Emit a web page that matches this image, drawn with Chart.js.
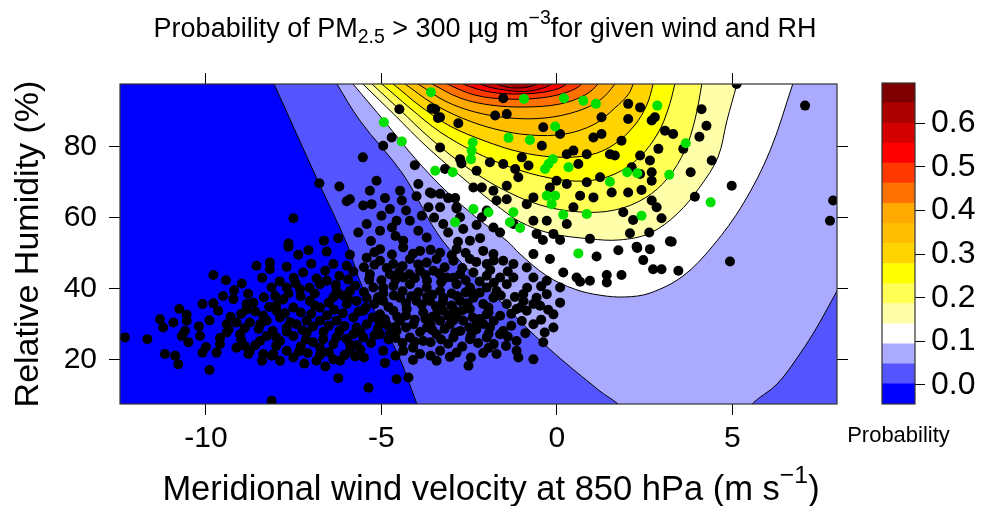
<!DOCTYPE html>
<html>
<head>
<meta charset="utf-8">
<script src="https://cdn.jsdelivr.net/npm/chart.js@4.4.1/dist/chart.umd.min.js"></script>
<style>
  html, body { margin: 0; padding: 0; background: #fff; }
  #wrap { position: relative; width: 986px; height: 506px; }
  #main { position: absolute; left: 0; top: 0; }
  #bar { position: absolute; left: 840px; top: 0; }
</style>
</head>
<body>
<div id="wrap">
  <canvas id="main" width="986" height="506"></canvas>
  <canvas id="bar" width="146" height="506"></canvas>
</div>
<script>
const FONT = "'Liberation Sans', Arial, sans-serif";
Chart.defaults.font.family = FONT;
Chart.defaults.color = "#000";

// axes
const xRange = [-12.45, 7.98];
const yRange = [7.4, 97.7];
const xTicks = [-10, -5, 0, 5];
const yTicks = [20, 40, 60, 80];

// colour key: band edges and colours (bottom -> top)
const levels = [-0.0436, 0.0024, 0.0484, 0.0944, 0.1404, 0.1864, 0.2324, 0.2784, 0.3244,
    0.3704, 0.4164, 0.4624, 0.5084, 0.5544, 0.6004, 0.6464, 0.692];
const bandColors = ["#0000ff", "#5555ff", "#aaaaff", "#ffffff", "#ffffaa", "#ffff55",
    "#ffff00", "#ffd400", "#ffbf00", "#ffaa00", "#ff7100", "#ff3900", "#ff0000",
    "#d40000", "#aa0000", "#7f0000"];
const keyTicks = [0, 0.1, 0.2, 0.3, 0.4, 0.5, 0.6];

// contour lines (wind, RH), one per level, region above each line is the next band
const c01 = [[-8.39,105],[-8.06,97.7],[-6.81,70.3],[-5.98,52.5],[-5.53,40.1],[-4.56,22.1],[-3.99,7.4],[-3.7,0],[-3.4,-4],[9,-4]];
const c02 = [[-6.73,105],[-6.27,97.7],[-5.61,87.3],[-4.39,72.3],[-3.25,53.4],[-1.54,35.6],[-0.28,23.5],[1.23,11.0],[1.74,7.4],[2.5,0],[3.2,-4],[4.4,-4],[5.0,0],[5.56,7.4],[6.27,13.0],[6.92,21.5],[7.41,29.1],[7.98,39.3],[8.6,50]];
const c03 = [[-6.43,105],[-5.81,97.7],[-4.90,87.0],[-4.05,76.8],[-3.19,67.8],[-2.28,59.9],[-1.42,53.4],[-1.05,49.7],[-0.28,43.5],[0.51,39.8],[1.23,38.1],[1.94,37.6],[2.65,38.7],[3.59,43.5],[4.44,52.0],[5.30,63.8],[6.07,78.8],[6.72,97.7],[6.97,105]];
const c04 = [[-6.28,105],[-5.53,97.7],[-4.62,88.9],[-3.70,79.9],[-2.48,69.5],[-1.62,62.7],[-1.05,58.8],[-0.20,55.6],[0.94,54.0],[1.79,53.7],[2.65,55.6],[3.42,61.0],[4.07,68.6],[4.59,77.1],[4.84,87.2],[5.13,97.7],[5.33,105]];
const c05 = [[-6.05,105],[-5.27,97.7],[-4.47,90.36],[-3.62,82.46],[-2.62,74.56],[-1.62,68.35],[-0.48,63.55],[0.66,61.58],[1.65,62.14],[2.51,65.53],[3.16,71.17],[3.65,79.07],[3.93,87.54],[4.13,97.7],[4.25,105]];
const c06 = [[-5.8,104],[-4.99,97.7],[-4.19,90.93],[-3.33,84.15],[-2.34,78.51],[-1.34,74.28],[-0.20,71.17],[0.80,70.32],[1.65,72.30],[2.36,77.10],[2.88,83.87],[3.16,90.36],[3.36,97.7],[3.48,104]];
const c07 = [[-5.4,103],[-4.67,97.7],[-3.90,91.49],[-3.05,85.85],[-2.05,81.61],[-1.05,78.51],[-0.06,77.10],[0.94,77.66],[1.65,80.77],[2.22,86.13],[2.56,91.78],[2.74,97.7],[2.85,103]];
const c08 = [[-5.0,102],[-4.33,97.7],[-3.56,92.34],[-2.71,88.11],[-1.77,85.0],[-0.77,83.31],[0.23,83.59],[1.08,86.41],[1.65,90.93],[2.02,94.6],[2.17,97.7],[2.27,102]];
const c09 = [[-4.6,101],[-3.96,97.7],[-3.19,92.90],[-2.34,89.80],[-1.34,88.11],[-0.34,88.11],[0.60,90.08],[1.23,93.19],[1.65,97.7],[1.8,101]];
const c10 = [[-4.2,101],[-3.56,97.7],[-2.76,93.75],[-1.91,91.78],[-0.91,91.21],[0.09,92.06],[0.80,94.6],[1.17,97.7],[1.35,101]];
const c11 = [[-3.8,101],[-3.13,97.7],[-2.34,94.6],[-1.48,93.47],[-0.48,93.75],[0.31,95.44],[0.71,97.7],[0.9,101]];
const c12 = [[-3.3,101],[-2.68,97.7],[-1.91,95.44],[-1.05,94.88],[-0.20,95.73],[0.28,97.7],[0.5,101]];
const c13 = [[-2.7,101],[-2.19,97.7],[-1.48,96.0],[-0.77,95.73],[-0.14,97.7],[0.1,101]];
const c14 = [[-2.1,101],[-1.71,97.7],[-1.14,96.57],[-0.57,97.7],[-0.3,101]];
const contours = [c01, c02, c03, c04, c05, c06, c07, c08, c09, c10, c11, c12, c13, c14];

// observations (wind, RH)
const blackPts = [
  [-7.65,51.8],[-7.08,50.8],[-6.56,50.4],[-7.37,49.5],[-5.90,49.5],[-8.56,46.4],[-8.18,47.3],[-8.18,45.4],
  [-7.70,46.1],[-6.37,46.9],[-5.99,46.4],[-7.23,44.5],[-9.79,43.8],[-9.43,42.3],[-8.98,41.4],[-8.13,40.3],
  [-7.70,40.3],[-7.32,39.8],[-6.75,41.2],[-6.56,42.2],[-6.28,39.3],[-5.90,39.3],[-8.03,37.9],[-9.51,37.9],
  [-9.22,37.0],[-10.10,35.6],[-9.79,35.8],[-9.65,33.7],[-8.84,35.6],[-8.65,36.0],[-8.37,32.3],[-7.99,33.7],
  [-7.51,34.6],[-7.04,36.5],[-6.75,34.6],[-6.37,37.5],[-5.99,35.6],[-5.71,36.5],[-10.76,34.2],[-10.55,32.6],
  [-11.31,31.3],[-10.93,30.4],[-11.22,29.0],[-10.55,30.9],[-9.41,29.9],[-9.13,30.4],[-8.75,30.4],[-8.27,30.9],
  [-7.89,31.8],[-7.42,29.9],[-7.13,30.9],[-6.75,30.9],[-6.28,30.9],[-5.80,31.8],[-5.71,29.0],[-10.60,28.0],
  [-10.69,26.6],[-10.17,26.6],[-9.41,27.6],[-9.03,27.1],[-8.46,25.2],[-8.27,26.6],[-7.89,25.2],[-7.51,26.6],
  [-7.13,27.6],[-6.66,25.7],[-6.28,26.2],[-5.80,27.1],[-12.31,26.2],[-11.67,25.7],[-10.50,24.8],[-9.60,24.3],
  [-9.13,23.3],[-8.75,22.4],[-8.37,21.5],[-8.08,21.5],[-7.70,22.4],[-6.75,23.3],[-6.37,24.3],[-5.90,24.3],
  [-5.90,22.4],[-11.17,21.5],[-10.88,21.0],[-10.79,18.6],[-10.10,21.9],[-9.70,21.9],[-8.79,21.5],[-8.13,21.0],
  [-7.89,19.6],[-7.51,20.5],[-6.85,19.6],[-6.37,20.0],[-6.18,19.6],[-9.90,17.0],[-6.23,14.7],[-8.13,8.3],
  [-6.77,69.7],[-6.20,68.8],[-5.99,64.6],[-5.90,65.2],[-7.51,59.8],[-5.66,55.8],[-6.64,53.5],[-6.23,54.2],
  [-7.65,52.7],
  [-1.53,93.7],[-1.43,89.2],[-1.76,88.8],[-4.49,90.6],[-3.47,90.6],[-3.33,88.3],[-2.81,86.6],[-4.71,82.6],
  [-4.95,80.3],[-3.33,79.8],[-5.53,77.0],[-2.76,76.5],[-2.29,73.2],[-3.19,73.7],[-1.91,75.6],[-1.53,75.1],
  [-1.19,73.7],[-0.81,74.7],[-1.00,77.0],[-0.39,85.5],[-0.43,80.3],[0.09,83.6],[0.47,78.9],[0.28,77.9],
  [0.85,77.9],[0.61,75.1],[1.04,82.6],[-1.10,71.4],[-0.01,70.4],[0.28,69.5],[0.85,70.0],[-5.14,70.4],
  [-5.33,67.6],[-4.47,67.6],[-3.95,69.5],[-3.62,67.1],[-3.33,66.7],[-2.38,68.5],[-2.14,68.5],[-1.81,67.6],
  [-1.43,69.0],[-0.67,65.7],[-0.20,68.5],[0.66,66.2],[-5.52,63.4],[-5.28,63.8],[-4.76,62.4],[-4.42,64.8],
  [-4.19,59.1],[-3.85,60.5],[-3.66,62.9],[-3.33,62.9],[-2.86,62.9],[-2.00,62.0],[-1.72,64.8],[-1.43,65.2],
  [-0.86,63.8],[0.47,62.9],[1.04,65.7],[-5.42,58.2],[-5.04,56.3],[-4.57,59.1],[-3.95,56.3],[-3.71,54.4],
  [-3.24,58.2],[-2.76,60.1],[-2.67,56.8],[-2.14,60.1],[-1.81,57.2],[-1.62,55.8],[-1.24,58.2],[-0.67,59.1],
  [-0.29,59.1],[-0.10,55.4],[0.28,58.2],[0.94,54.0],[-0.58,55.4],[-2.48,53.5],[-4.38,53.5],
  [-5.04,51.1],[-4.38,51.6],[-3.90,50.6],[-3.33,50.1],[-2.86,51.1],[-2.10,50.6],[-1.81,49.7],[-5.42,48.7],
  [-5.04,47.8],[-4.66,46.9],[-4.19,48.3],[-3.71,47.3],[-3.43,48.3],[-2.95,47.8],[-2.48,48.3],[-2.00,46.9],
  [-1.53,47.8],[-1.24,46.9],[-5.33,44.0],[-4.76,44.0],[-4.38,43.1],[-3.90,45.0],[-3.52,45.0],[-3.14,43.1],
  [-2.76,44.0],[-2.38,44.5],[-2.00,43.6],[-1.62,43.1],[-1.24,43.1],[-0.67,43.1],[-0.29,42.2],[-5.23,40.3],
  [-4.66,40.7],[-4.19,41.2],[-3.71,40.3],[-3.33,39.3],[-2.86,41.2],[-2.48,40.3],[-2.00,40.3],[-1.72,39.3],
  [-1.43,41.2],[-0.96,38.4],[-0.58,37.4],[-0.29,38.4],[-5.42,37.4],[-4.95,36.5],[-4.47,37.4],[-4.00,36.5],
  [-3.62,36.5],[-3.24,37.4],[-2.76,36.5],[-2.38,37.4],[-2.10,35.6],[-1.81,37.4],[-1.43,35.6],[-1.05,34.6],
  [-0.67,35.6],[-0.48,35.1],[0.09,36.0],[-5.52,33.7],[-5.04,32.7],[-4.66,33.7],[-4.28,34.2],[-3.81,33.2],
  [-3.24,33.7],[-2.86,32.7],[-2.48,34.2],[-2.00,32.7],[-1.62,32.3],[-1.15,34.2],[-0.86,33.7],[-0.10,32.7],
  [-5.42,29.9],[-4.85,29.9],[-4.47,30.9],[-4.09,29.9],[-3.71,29.0],[-3.33,30.9],[-3.05,29.9],[-2.67,30.9],
  [-2.29,29.9],[-1.91,29.0],[-1.53,28.0],[-0.67,29.9],[-0.10,29.0],[-5.52,26.2],[-5.04,27.1],[-4.57,28.0],
  [-4.19,26.2],[-3.81,25.2],[-3.43,27.1],[-2.95,26.2],[-2.48,25.7],[-2.00,26.2],[-1.62,27.1],[-1.15,25.2],
  [-0.39,24.8],[-4.95,22.4],[-4.38,22.4],[-3.90,21.5],[-3.33,22.4],[-2.86,21.9],[-1.72,21.5],[-1.15,22.4],
  [-0.67,20.0],[-1.10,20.5],[-3.43,19.6],[-2.52,18.2],[-4.57,14.4],[-4.23,14.9],[-5.37,12.0],
  [-0.67,49.7],[-0.20,48.3],[0.18,44.5],[0.56,43.1],[0.94,42.2],[0.09,40.3],[-0.86,45.9],
  [1.75,50.8],[2.29,51.4],[2.65,51.1],[2.46,48.0],[2.74,45.4],[2.98,45.4],[3.46,45.0],[1.84,43.8],
  [1.42,41.7],[4.93,47.6],
  [5.12,97.7],[7.07,91.6],[4.12,90.6],[4.26,85.9],[4.06,82.8],[4.41,76.1],[4.98,69.0],[3.93,65.9],
  [3.81,72.8],[3.60,79.4],[3.31,83.6],[3.08,84.5],[2.89,79.4],[2.65,76.1],[2.37,77.5],[2.79,88.3],
  [2.70,87.4],[2.37,91.1],[2.03,92.1],[2.03,87.8],[1.84,81.7],[1.51,77.9],[1.65,77.5],[1.27,88.3],
  [1.27,83.6],[2.13,74.2],[2.37,72.3],[2.70,72.8],[2.70,70.4],[2.41,67.8],[2.03,67.1],[1.56,67.1],
  [2.70,64.8],[2.84,62.9],[1.89,61.5],[2.17,59.3],[2.98,59.8],[2.08,55.6],[2.63,55.8],[3.22,53.3],
  [1.23,71.4],[7.87,64.8],[7.78,59.1],
  [-3.57,90.8],[-3.39,88.1],[-4.05,74.8],[-2.72,75.3],[-3.57,66.8],[-3.10,65.5],[-2.86,62.6],
  [-2.29,57.9],[-2.19,54.2],[-2.82,53.2],[-0.40,53.7],[0.09,53.7],[1.13,49.0],[1.42,43.8],[0.66,41.9],
  [2.27,51.8],[3.27,53.2]
];
// the overlapping core of the cloud, where single dots merge
const blackCore = [
  [-8.6,33.5],[-8.2,34.8],[-7.8,36.9],[-7.3,37.8],[-6.9,38.6],[-6.5,36.0],[-6.1,38.0],[-5.75,40.8],
  [-8.5,28.6],[-8.1,28.0],[-7.7,28.9],[-7.25,28.2],[-6.95,29.3],[-6.5,29.5],[-6.05,29.4],[-5.65,33.5],
  [-6.1,33.0],[-6.55,32.4],[-7.0,32.8],[-7.75,33.0],[-8.0,35.2],[-9.0,32.8],[-9.3,32.0],[-8.9,28.8],
  [-8.6,24.0],[-8.0,23.8],[-7.3,23.7],[-6.95,24.8],[-6.5,22.0],[-6.0,25.8],[-5.7,24.0],[-7.1,21.8],
  [-7.7,27.8],[-6.85,42.8],[-7.5,43.0],[-6.2,43.5],[-5.8,44.8],[-7.9,42.0],[-8.4,43.0],[-6.6,45.0],
  [-7.0,47.0],[-8.8,38.5],[-9.2,39.5],[-9.9,31.0],[-10.2,29.3],[-9.6,26.0],[-10.0,23.5],[-9.0,25.5],
  [-5.75,20.8],[-6.6,18.0],[-7.2,18.8],[-8.4,19.6],
  [-5.2,50.2],[-4.7,49.6],[-4.1,49.8],[-3.6,50.9],[-3.0,49.4],[-2.6,50.0],[-2.3,47.5],[-1.8,47.9],
  [-5.5,46.0],[-5.2,46.7],[-4.85,45.8],[-4.4,46.3],[-3.95,46.8],[-3.2,46.0],[-2.7,45.8],[-1.9,45.2],
  [-1.4,44.8],[-5.0,42.3],[-4.6,42.5],[-4.05,42.9],[-3.7,42.2],[-3.3,41.8],[-2.6,42.3],[-2.2,42.0],
  [-1.8,41.6],[-5.5,39.0],[-4.95,38.6],[-4.4,39.2],[-3.95,38.9],[-3.55,38.2],[-3.0,38.6],[-2.6,38.9],
  [-2.2,38.8],[-1.6,38.0],[-1.2,37.6],[-5.2,35.6],[-4.8,34.8],[-4.3,35.8],[-3.85,35.4],[-3.45,35.0],
  [-3.0,35.2],[-2.55,35.8],[-1.95,34.6],[-1.3,32.9],[-5.25,31.8],[-4.9,31.3],[-4.3,32.4],[-3.55,32.0],
  [-3.1,32.3],[-2.7,33.8],[-2.2,31.4],[-1.8,30.8],[-5.1,28.6],[-4.75,27.6],[-4.3,29.0],[-3.9,27.7],
  [-3.55,28.3],[-3.2,28.6],[-2.75,28.0],[-2.3,28.4],[-1.95,27.2],[-5.3,24.6],[-4.8,25.6],[-4.4,24.6],
  [-3.6,24.8],[-3.1,24.4],[-2.7,23.6],[-2.25,24.6],[-1.8,24.3],[-4.6,21.0],[-4.1,23.3],[-3.05,20.7],
  [-2.1,21.8],
  [-7.45,41.5],[-7.05,40.2],[-6.3,41.0],[-5.95,42.5],[-6.9,35.2],[-7.3,33.2],[-6.35,34.0],[-5.95,37.2],
  [-7.6,30.5],[-6.65,27.8],[-6.2,28.0],[-5.6,27.9],[-7.15,25.6],[-8.35,37.5],[-7.65,38.6],[-8.85,34.0],
  [-8.45,30.0],[-9.35,28.5],[-8.0,26.2],[-7.35,22.2],[-6.75,21.2],[-6.05,21.2],[-5.6,22.8],[-8.9,23.8],
  [-5.35,42.5],[-4.95,40.2],[-4.5,44.6],[-4.2,44.0],[-3.75,43.8],[-3.35,44.2],[-2.95,43.0],[-5.1,37.5],
  [-4.65,38.0],[-4.15,37.8],[-3.7,37.6],[-3.25,36.2],[-2.85,37.9],[-2.45,39.4],[-5.45,34.6],[-4.55,32.0],
  [-4.05,31.2],[-3.75,31.5],[-3.4,33.5],[-2.95,34.0],[-2.4,31.8],[-1.95,33.2],[-5.05,30.2],[-4.6,29.2],
  [-3.6,29.9],[-2.95,31.0],[-2.5,29.0],[-2.1,30.0],[-1.3,29.5],[-5.2,26.8],[-4.6,26.0],[-4.05,25.0],
  [-3.3,25.6],[-2.9,27.6],[-2.45,26.8],[-1.4,26.4],[-5.5,20.5],[-4.1,19.8],[-3.6,21.0],[-2.45,20.5],
  [-1.95,23.2],[-1.45,23.8],[-4.9,19.0],
  [-0.85,40.2],[-0.45,40.6],[-0.95,36.4],[-0.25,34.0],[-0.45,31.2],[-1.0,30.8],[-0.35,27.6],[-0.9,27.4],
  [-5.0,60.5],[-4.7,57.2],[-4.9,65.5],[-4.3,62.0],[-4.0,66.0],[-3.5,60.0],[-3.1,55.8],[-4.6,54.8],
  [-5.3,53.4],[-2.9,65.5]
];
const greenPts = [
  [-3.59,95.4],[-4.93,86.9],[-4.42,81.5],[-2.40,81.2],[-2.43,78.9],[-2.45,76.5],[-1.38,82.5],[-0.77,81.9],
  [-0.05,85.7],[-0.94,93.5],[0.20,93.7],[0.75,93.0],[1.11,92.1],[-0.24,75.1],[-0.12,76.5],[-0.34,73.7],
  [0.33,74.2],[-3.47,73.2],[-2.97,72.8],[-0.29,66.2],[-0.05,66.2],[-0.15,63.8],[0.18,60.8],[0.85,61.0],
  [-2.38,62.4],[-1.95,61.5],[-1.24,61.5],[-1.34,58.7],[-1.05,57.1],[-2.90,58.7],[2.86,91.6],[3.67,81.0],
  [3.20,72.1],[4.38,64.3],[2.41,60.5],[2.00,72.8],[2.29,72.5],[1.51,70.1],[0.61,49.9]
];

const xy = (arr) => arr.map(([x, y]) => ({ x, y }));

// text drawn in runs so sub/superscripts sit like the original
function drawRuns(ctx, runs, cx, baseline, size) {
    let total = 0;
    const parts = runs.map((r) => {
        const fs = r.sup || r.sub ? size * 0.72 : size;
        ctx.font = `${fs}px ${FONT}`;
        const w = ctx.measureText(r.text).width;
        total += w;
        return { ...r, fs, w };
    });
    let x = cx - total / 2;
    ctx.save();
    ctx.fillStyle = "#000";
    ctx.textAlign = "left";
    ctx.textBaseline = "alphabetic";
    for (const p of parts) {
        ctx.font = `${p.fs}px ${FONT}`;
        const dy = p.sup ? -size * 0.48 : p.sub ? size * 0.22 : 0;
        ctx.fillText(p.text, x, baseline + dy);
        x += p.w;
    }
    ctx.restore();
}

const plotBackground = {
    id: "plotBackground",
    beforeDatasetsDraw(chart) {
        const { ctx, chartArea: a } = chart;
        ctx.save();
        ctx.fillStyle = bandColors[0];
        ctx.fillRect(a.left, a.top, a.right - a.left, a.bottom - a.top);
        ctx.restore();
    },
};

const frame = {
    id: "frame",
    afterDatasetsDraw(chart) {
        const { ctx, chartArea: a } = chart;
        ctx.save();
        ctx.strokeStyle = "#333";
        ctx.lineWidth = 1.2;
        ctx.strokeRect(a.left, a.top, a.right - a.left, a.bottom - a.top);
        ctx.restore();
    },
};

const texts = {
    id: "texts",
    afterDraw(chart) {
        const { ctx } = chart;
        drawRuns(ctx, [
            { text: "Probability of PM" },
            { text: "2.5", sub: true },
            { text: " > 300 \u00b5g m" },
            { text: "\u22123", sup: true },
            { text: "for given wind and RH" },
        ], 485, 37, 27);
        drawRuns(ctx, [
            { text: "Meridional wind velocity at 850 hPa (m s" },
            { text: "\u22121", sup: true },
            { text: ")" },
        ], 491, 500, 34.5);
    },
};

const keyLabel = {
    id: "keyLabel",
    afterDraw(chart) {
        const { ctx, chartArea: a } = chart;
        ctx.save();
        ctx.fillStyle = "#000";
        ctx.font = `22px ${FONT}`;
        ctx.textAlign = "center";
        ctx.textBaseline = "middle";
        ctx.fillText("Probability", (a.left + a.right) / 2, 436);
        ctx.restore();
    },
};

const tickGrid = { drawOnChartArea: false, drawTicks: true, tickLength: 11, color: "#000", lineWidth: 1 };

const datasets = contours.map((pts, k) => ({
    type: "line",
    data: xy(pts),
    borderColor: "#000",
    borderWidth: 1,
    backgroundColor: bandColors[k + 1],
    fill: "end",
    pointRadius: 0,
    tension: 0.35,
    capBezierPoints: false,
    clip: 0,
    order: 100 - k,
}));
datasets.push({
    type: "scatter",
    data: xy(blackPts.concat(blackCore)),
    pointRadius: 5,
    pointBackgroundColor: "#000",
    pointBorderWidth: 0,
    clip: 0,
    order: 1,
});
datasets.push({
    type: "scatter",
    data: xy(greenPts),
    pointRadius: 5,
    pointBackgroundColor: "#00e000",
    pointBorderWidth: 0,
    clip: 0,
    order: 0,
});

new Chart(document.getElementById("main"), {
    type: "scatter",
    data: { datasets },
    options: {
        responsive: false,
        animation: false,
        events: [],
        layout: { padding: 0 },
        plugins: { legend: { display: false }, tooltip: { enabled: false }, title: { display: false } },
        scales: {
            x: {
                type: "linear", position: "bottom", min: xRange[0], max: xRange[1],
                afterBuildTicks: (s) => { s.ticks = xTicks.map((v) => ({ value: v })); },
                afterFit: (s) => { s.height = 102; },
                grid: tickGrid, border: { display: false },
                ticks: { font: { size: 30 }, padding: 6, maxRotation: 0, autoSkip: false, callback: (v) => String(v) },
            },
            x2: {
                type: "linear", position: "top", min: xRange[0], max: xRange[1],
                afterBuildTicks: (s) => { s.ticks = xTicks.map((v) => ({ value: v })); },
                afterFit: (s) => { s.height = 84; },
                grid: tickGrid, border: { display: false }, ticks: { display: false },
            },
            y: {
                type: "linear", position: "left", min: yRange[0], max: yRange[1],
                afterBuildTicks: (s) => { s.ticks = yTicks.map((v) => ({ value: v })); },
                afterFit: (s) => { s.width = 120; },
                grid: tickGrid, border: { display: false },
                ticks: { font: { size: 30 }, padding: 12, callback: (v) => String(v) },
                title: { display: true, text: "Relative Humidity (%)", font: { size: 34 }, padding: { top: 8 } },
            },
            y2: {
                type: "linear", position: "right", min: yRange[0], max: yRange[1],
                afterBuildTicks: (s) => { s.ticks = yTicks.map((v) => ({ value: v })); },
                afterFit: (s) => { s.width = 149; },
                grid: tickGrid, border: { display: false }, ticks: { display: false },
            },
        },
    },
    plugins: [plotBackground, frame, texts],
});

// colour key
new Chart(document.getElementById("bar"), {
    type: "bar",
    data: {
        labels: [""],
        datasets: bandColors.map((c, i) => ({
            data: [[levels[i], levels[i + 1]]],
            backgroundColor: c,
            borderWidth: 0,
            barPercentage: 1,
            categoryPercentage: 1,
            grouped: false,
        })),
    },
    options: {
        responsive: false,
        animation: false,
        events: [],
        layout: { padding: { left: 42, top: 83, bottom: 58, right: 0 } },
        plugins: { legend: { display: false }, tooltip: { enabled: false } },
        scales: {
            x: {
                grid: { display: false }, border: { display: false }, ticks: { display: false },
                afterFit: (s) => { s.height = 44; },
            },
            y: {
                position: "right", min: levels[0], max: levels[levels.length - 1],
                afterBuildTicks: (s) => { s.ticks = keyTicks.map((v) => ({ value: v })); },
                afterFit: (s) => { s.width = 71; },
                grid: { drawOnChartArea: false, drawTicks: true, tickLength: 10, color: "#000" },
                border: { display: false },
                ticks: { font: { size: 32 }, padding: 6, callback: (v) => v.toFixed(1) },
            },
        },
    },
    plugins: [frame, keyLabel],
});
</script>
</body>
</html>
